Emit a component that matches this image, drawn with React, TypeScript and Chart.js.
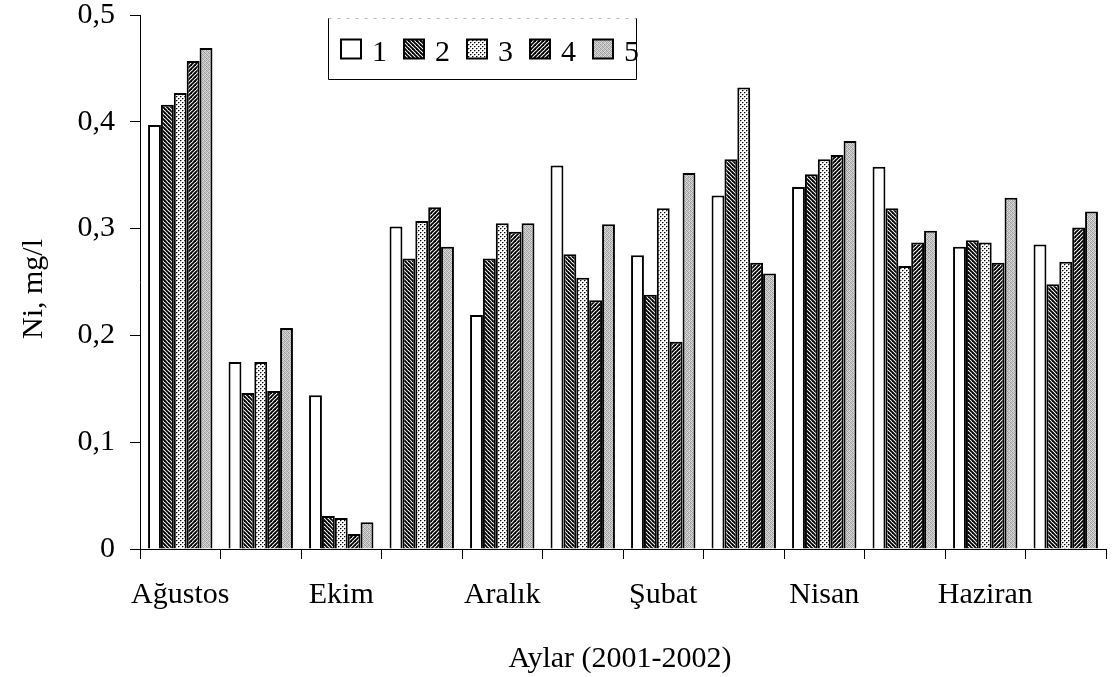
import React, { useEffect, useRef } from 'react';
import { Chart, registerables } from 'chart.js';

Chart.register(...registerables);

// ---- data ----
const categories = ['Ağustos', 'Eylül', 'Ekim', 'Kasım', 'Aralık', 'Ocak', 'Şubat', 'Mart', 'Nisan', 'Mayıs', 'Haziran', 'Temmuz'];
const xTickLabels = ['Ağustos', '', 'Ekim', '', 'Aralık', '', 'Şubat', '', 'Nisan', '', 'Haziran', ''];
const seriesNames = ['1', '2', '3', '4', '5'];
const series1 = [0.397, 0.175, 0.144, 0.302, 0.219, 0.359, 0.275, 0.331, 0.339, 0.358, 0.283, 0.285];
const series2 = [0.416, 0.146, 0.031, 0.272, 0.272, 0.276, 0.238, 0.365, 0.351, 0.319, 0.289, 0.248];
const series3 = [0.427, 0.175, 0.029, 0.307, 0.305, 0.254, 0.319, 0.432, 0.365, 0.265, 0.287, 0.269];
const series4 = [0.457, 0.148, 0.014, 0.320, 0.297, 0.233, 0.194, 0.268, 0.369, 0.287, 0.268, 0.301];
const series5 = [0.469, 0.207, 0.025, 0.283, 0.305, 0.304, 0.352, 0.258, 0.382, 0.298, 0.329, 0.316];
const yTickLabels = ['0', '0,1', '0,2', '0,3', '0,4', '0,5'];
const yTitle = 'Ni, mg/l';
const xTitle = 'Aylar (2001-2002)';

const FONT = '"Liberation Serif", "Times New Roman", serif';
const FS = 30;

function makePattern(kind: string): any {
  if (kind === 'white') return '#ffffff';
  const c = document.createElement('canvas');
  const s = 4;
  c.width = s;
  c.height = s;
  const g = c.getContext('2d')!;
  g.fillStyle = '#fff';
  g.fillRect(0, 0, s, s);
  if (kind === 'back' || kind === 'fwd') {
    g.strokeStyle = '#000';
    g.lineWidth = 1.9;
    for (let k = -1; k <= 1; k++) {
      g.beginPath();
      if (kind === 'back') {
        g.moveTo(k * s - 1, -1);
        g.lineTo(k * s + s + 1, s + 1);
      } else {
        g.moveTo(k * s + s + 1, -1);
        g.lineTo(k * s - 1, s + 1);
      }
      g.stroke();
    }
  } else if (kind === 'dots') {
    const px: [number, number, string][] = [
      [0, 0, '#000'], [2, 2, '#000'],
      [1, 0, '#999'], [0, 1, '#bbb'], [3, 2, '#999'], [2, 3, '#bbb'],
    ];
    px.forEach(([x, y, col]) => {
      g.fillStyle = col;
      g.fillRect(x, y, 1, 1);
    });
  } else if (kind === 'grey') {
    const tile = [
      [0x9a, 0xd0, 0xb0, 0xe0],
      [0xc8, 0xa0, 0xd8, 0xb0],
      [0xb0, 0xe0, 0x98, 0xd0],
      [0xd8, 0xb8, 0xc8, 0xa0],
    ];
    for (let y = 0; y < 4; y++) {
      for (let x = 0; x < 4; x++) {
        const v = tile[y][x];
        g.fillStyle = `rgb(${v},${v},${v})`;
        g.fillRect(x, y, 1, 1);
      }
    }
  }
  return g.createPattern(c, 'repeat');
}

const patternKinds = ['white', 'back', 'dots', 'fwd', 'grey'];

export default function App() {
  const ref = useRef<HTMLCanvasElement | null>(null);

  useEffect(() => {
    const canvas = ref.current;
    if (!canvas) return;
    const fills = patternKinds.map(makePattern);
    const allSeries = [series1, series2, series3, series4, series5];

    const decor = {
      id: 'decor',
      afterDraw(chart: any) {
        const ctx = chart.ctx as CanvasRenderingContext2D;
        ctx.save();
        // legend frame
        ctx.strokeStyle = '#000';
        ctx.lineWidth = 1;
        ctx.beginPath();
        ctx.moveTo(328.5, 18);
        ctx.lineTo(328.5, 79.5);
        ctx.lineTo(636.5, 79.5);
        ctx.lineTo(636.5, 18);
        ctx.stroke();
        ctx.strokeStyle = '#bbb';
        ctx.setLineDash([3, 6]);
        ctx.beginPath();
        ctx.moveTo(328.5, 18.5);
        ctx.lineTo(636.5, 18.5);
        ctx.stroke();
        ctx.setLineDash([]);
        // legend items
        const startX = 341;
        const step = 63;
        ctx.font = `${FS}px ${FONT}`;
        ctx.textBaseline = 'alphabetic';
        ctx.textAlign = 'left';
        seriesNames.forEach((name, i) => {
          const x = startX + i * step;
          ctx.fillStyle = fills[i];
          ctx.fillRect(x, 39.5, 20, 19);
          ctx.strokeStyle = '#000';
          ctx.lineWidth = 2;
          ctx.strokeRect(x, 39.5, 20, 19);
          ctx.fillStyle = '#000';
          ctx.fillText(name, x + 31, 61);
        });
        // axis titles
        ctx.fillStyle = '#000';
        ctx.font = `${FS}px ${FONT}`;
        ctx.textAlign = 'center';
        ctx.textBaseline = 'alphabetic';
        ctx.fillText(xTitle, 620, 667);
        ctx.translate(42, 289);
        ctx.rotate(-Math.PI / 2);
        ctx.fillText(yTitle, 0, 0);
        ctx.restore();
      },
    };

    const chart = new Chart(canvas, {
      type: 'bar',
      data: {
        labels: categories,
        datasets: allSeries.map((d, i) => ({
          label: seriesNames[i],
          data: d,
          backgroundColor: fills[i],
          borderColor: '#000',
          borderWidth: 2,
          categoryPercentage: 0.8,
          barPercentage: 1.0,
        })),
      },
      options: {
        animation: false,
        responsive: false,
        devicePixelRatio: 1,
        layout: { padding: { left: 0, right: 8, top: 15, bottom: 0 } },
        plugins: {
          legend: { display: false },
          tooltip: { enabled: false },
        },
        scales: {
          x: {
            type: 'category',
            offset: true,
            grid: {
              display: true,
              drawOnChartArea: false,
              drawTicks: true,
              tickLength: 10,
              color: '#000',
              offset: true,
            },
            border: { display: true, color: '#000', width: 1 },
            ticks: {
              autoSkip: false,
              maxRotation: 0,
              minRotation: 0,
              padding: 21,
              color: '#000',
              font: { family: FONT, size: FS, lineHeight: 1 },
              callback: (_v: any, i: number) => xTickLabels[i],
            },
            afterFit: (s: any) => {
              s.height = 128;
              s.paddingLeft = 0;
              s.paddingRight = 0;
            },
          },
          y: {
            min: 0,
            max: 0.5,
            grid: {
              display: true,
              drawOnChartArea: false,
              drawTicks: true,
              tickLength: 10,
              color: '#000',
            },
            border: { display: true, color: '#000', width: 1 },
            ticks: {
              stepSize: 0.1,
              padding: 15,
              color: '#000',
              font: { family: FONT, size: FS, lineHeight: 1 },
              callback: (v: any) => yTickLabels[Math.round(Number(v) * 10)],
            },
            afterFit: (s: any) => {
              s.width = 140;
              s.paddingTop = 0;
              s.paddingBottom = 0;
            },
          },
        },
      },
      plugins: [decor],
    } as any);

    return () => chart.destroy();
  }, []);

  return (
    <div style={{ position: 'fixed', left: 0, top: 0, width: 1114, height: 677, background: '#fff' }}>
      <canvas ref={ref} width={1114} height={677} style={{ display: 'block', width: 1114, height: 677 }} />
    </div>
  );
}
